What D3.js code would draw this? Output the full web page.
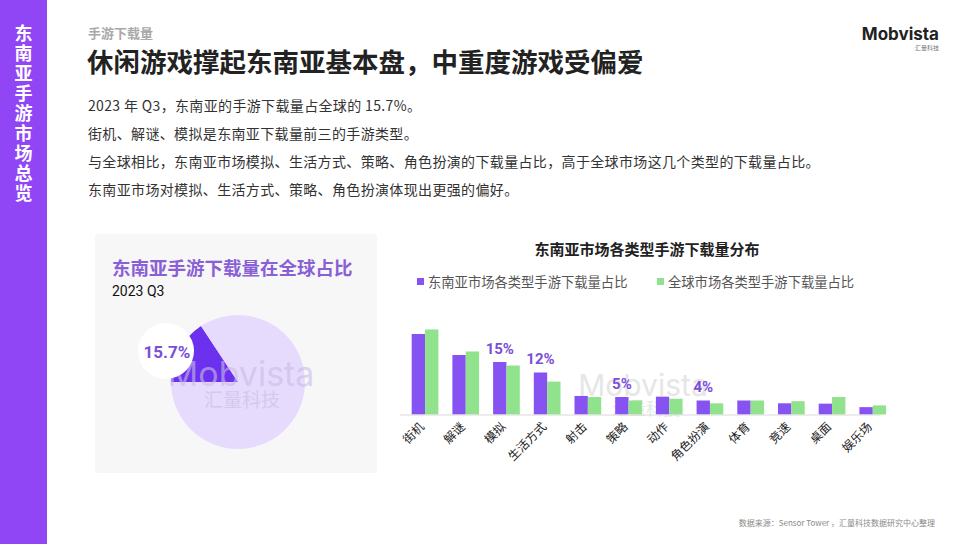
<!DOCTYPE html>
<html>
<head>
<meta charset="utf-8">
<script src="https://cdn.jsdelivr.net/npm/d3@7"></script>
<style>
  html, body { margin: 0; padding: 0; background: #fff; }
  svg { display: block; font-family: "Noto Sans CJK SC", "Noto Sans", sans-serif; }
</style>
</head>
<body>
<div id="vis"></div>
<script>
const categories = ["街机", "解谜", "模拟", "生活方式", "射击", "策略", "动作", "角色扮演", "体育", "竞速", "桌面", "娱乐场"];
const seaShare = [23, 17, 15, 12, 5.3, 5, 5.1, 4, 4, 3.2, 3.1, 2.1];
const globalShare = [24.3, 18, 14, 9.4, 5, 4, 4.5, 3.2, 4, 3.8, 5, 2.6];
const seriesNames = ["东南亚市场各类型手游下载量占比", "全球市场各类型手游下载量占比"];
const labelledBars = { "模拟": "15%", "生活方式": "12%", "策略": "5%", "角色扮演": "4%" };
const pieValues = [15.7, 84.3];
const bodyLines = [
    "2023 年 Q3，东南亚的手游下载量占全球的 15.7%。",
    "街机、解谜、模拟是东南亚下载量前三的手游类型。",
    "与全球相比，东南亚市场模拟、生活方式、策略、角色扮演的下载量占比，高于全球市场这几个类型的下载量占比。",
    "东南亚市场对模拟、生活方式、策略、角色扮演体现出更强的偏好。"
];

const width = 968, height = 544;
const purple = "#8652f2", green = "#90e38c", labelPurple = "#7a4fd8";

const svg = d3.select("#vis").append("svg")
    .attr("width", width)
    .attr("height", height);

// side bar
svg.append("rect").attr("x", 0).attr("y", 0).attr("width", 47).attr("height", height).attr("fill", "#9146f5");
svg.append("g").selectAll("text")
    .data("东南亚手游市场总览".split(""))
    .enter().append("text")
    .attr("x", 23.5)
    .attr("y", (d, i) => 40 + i * 20)
    .attr("text-anchor", "middle")
    .attr("fill", "#fff")
    .style("font-size", "18px")
    .style("font-weight", "bold")
    .text(d => d);

// header
svg.append("text").attr("x", 88).attr("y", 38)
    .attr("fill", "#a9a9a9").style("font-size", "13px").style("font-weight", "bold")
    .text("手游下载量");
svg.append("text").attr("x", 87).attr("y", 72)
    .attr("fill", "#222").style("font-size", "26.5px").style("font-weight", "bold")
    .text("休闲游戏撑起东南亚基本盘，中重度游戏受偏爱");

svg.append("g").selectAll("text")
    .data(bodyLines)
    .enter().append("text")
    .attr("x", 88)
    .attr("y", (d, i) => 111 + i * 28)
    .attr("fill", "#333")
    .style("font-size", "14px")
    .style("letter-spacing", "0.35px")
    .text(d => d);

// logo
svg.append("text").attr("x", 939).attr("y", 40).attr("text-anchor", "end")
    .attr("fill", "#222").style("font-size", "17px").style("font-weight", "bold")
    .style("font-family", "Inter, 'Noto Sans', sans-serif")
    .text("Mobvista");
svg.append("text").attr("x", 939).attr("y", 50).attr("text-anchor", "end")
    .attr("fill", "#777").style("font-size", "6px")
    .text("汇量科技");

// footer
svg.append("text").attr("x", 935).attr("y", 526).attr("text-anchor", "end")
    .attr("fill", "#8a8a8a").style("font-size", "8px")
    .text("数据来源：Sensor Tower ，汇量科技数据研究中心整理");

// ---- left panel: pie ----
svg.append("rect").attr("x", 95).attr("y", 234).attr("width", 282).attr("height", 239)
    .attr("rx", 3).attr("fill", "#f7f7f7");
svg.append("text").attr("x", 112).attr("y", 275)
    .attr("fill", "#8a60d6").style("font-size", "18.5px").style("font-weight", "bold")
    .text("东南亚手游下载量在全球占比");
svg.append("text").attr("x", 112).attr("y", 296)
    .attr("fill", "#111").style("font-size", "14px")
    .style("font-family", "Roboto, 'Noto Sans', sans-serif")
    .text("2023 Q3");

const pieCx = 238, pieCy = 382, pieR = 67;
const pie = d3.pie().sort(null).startAngle(1.5 * Math.PI).endAngle(3.5 * Math.PI);
const arc = d3.arc().innerRadius(0).outerRadius(pieR);
const pieG = svg.append("g").attr("transform", `translate(${pieCx},${pieCy})`);
pieG.selectAll("path")
    .data(pie(pieValues))
    .enter().append("path")
    .attr("d", arc)
    .attr("fill", (d, i) => i === 0 ? "#6c30ef" : "#e6dbfd");

// watermark on pie
svg.append("text").attr("x", 241).attr("y", 386).attr("text-anchor", "middle")
    .attr("fill", "#c9bde6").attr("opacity", 0.6)
    .style("font-size", "34px").style("font-family", "Inter, 'Noto Sans', sans-serif")
    .text("Mobvista");
svg.append("text").attr("x", 242).attr("y", 407).attr("text-anchor", "middle")
    .attr("fill", "#c9bde6").attr("opacity", 0.6).style("font-size", "19px")
    .text("汇量科技");

svg.append("circle").attr("cx", 166).attr("cy", 351).attr("r", 28).attr("fill", "#fff");
svg.append("text").attr("x", 167).attr("y", 358).attr("text-anchor", "middle")
    .attr("fill", labelPurple).style("font-size", "17px").style("font-weight", "bold")
    .style("font-family", "Roboto, 'Noto Sans', sans-serif")
    .text(pieValues[0] + "%");

// ---- right: grouped bars ----
svg.append("text").attr("x", 647).attr("y", 255).attr("text-anchor", "middle")
    .attr("fill", "#222").style("font-size", "15px").style("font-weight", "bold")
    .text("东南亚市场各类型手游下载量分布");

const legend = svg.append("g").selectAll("g")
    .data(seriesNames)
    .enter().append("g")
    .attr("transform", (d, i) => `translate(${i === 0 ? 417 : 657},0)`);
legend.append("rect").attr("x", 0).attr("y", 278).attr("width", 7).attr("height", 7)
    .attr("fill", (d, i) => i === 0 ? purple : green);
legend.append("text").attr("x", 11).attr("y", 286.5)
    .attr("fill", "#555").style("font-size", "13.3px")
    .text(d => d);

const baseY = 414.5;
const x0 = d3.scaleBand().domain(categories).range([404.7, 893.1]).paddingInner(0.344).paddingOuter(0.172);
const x1 = d3.scaleBand().domain([0, 1]).range([0, x0.bandwidth()]);
const y = d3.scaleLinear().domain([0, 25]).range([baseY, baseY - 87.5]);

// watermark behind bars
svg.append("text").attr("x", 643).attr("y", 396).attr("text-anchor", "middle")
    .attr("fill", "#dcdcdc").attr("opacity", 0.7)
    .style("font-size", "30px").style("font-family", "Inter, 'Noto Sans', sans-serif")
    .text("Mobvista");
svg.append("text").attr("x", 646).attr("y", 415).attr("text-anchor", "middle")
    .attr("fill", "#dcdcdc").attr("opacity", 0.7).style("font-size", "17px")
    .text("汇量科技");

const groups = svg.append("g").selectAll("g")
    .data(categories.map((c, i) => ({ cat: c, values: [seaShare[i], globalShare[i]] })))
    .enter().append("g")
    .attr("transform", d => `translate(${x0(d.cat)},0)`);

groups.selectAll("rect")
    .data(d => d.values)
    .enter().append("rect")
    .attr("x", (d, i) => x1(i))
    .attr("y", d => y(d))
    .attr("width", x1.bandwidth())
    .attr("height", d => baseY - y(d))
    .attr("fill", (d, i) => i === 0 ? purple : green);

// value labels over selected purple bars
groups.filter(d => labelledBars[d.cat])
    .append("text")
    .attr("x", x1(0) + x1.bandwidth() / 2)
    .attr("y", d => y(d.values[0]) - 8.5)
    .attr("text-anchor", "middle")
    .attr("fill", labelPurple)
    .style("font-size", "15px")
    .style("font-weight", "bold")
    .style("font-family", "Roboto, 'Noto Sans', sans-serif")
    .text(d => labelledBars[d.cat]);

// x axis
const xAxis = svg.append("g")
    .attr("transform", `translate(0,${baseY})`)
    .call(d3.axisBottom(x0).tickSize(0).tickPadding(0));
xAxis.select(".domain").attr("stroke", "#d9d9d9").attr("d", "M400,0.5H880");
xAxis.selectAll("text")
    .attr("fill", "#222")
    .style("font-size", "12px")
    .style("font-family", "'Noto Sans CJK SC', sans-serif")
    .attr("text-anchor", "end")
    .attr("dy", null)
    .attr("transform", "translate(0,13) rotate(-45)");
</script>
</body>
</html>
